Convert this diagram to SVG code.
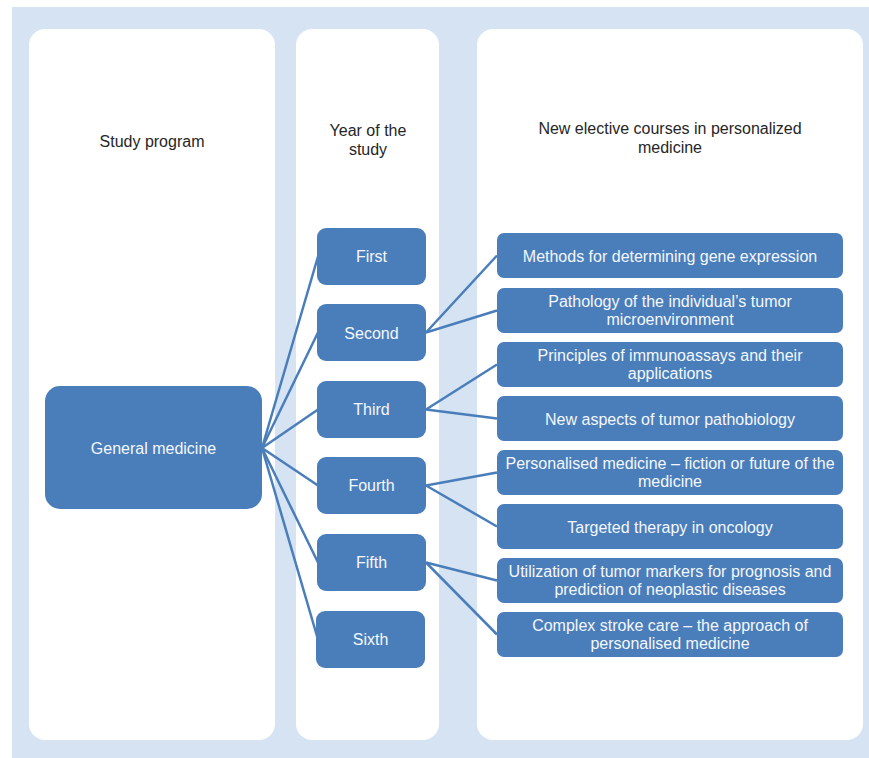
<svg xmlns="http://www.w3.org/2000/svg" width="869" height="758" viewBox="0 0 869 758">
  <style>
    .bg { fill: #d5e3f3; }
    .panel { fill: #ffffff; }
    .node { fill: #4a7ebb; }
    .head { font-family: "Liberation Sans", Arial, sans-serif; font-size: 16px; fill: #262626; text-anchor: middle; }
    .lbl { font-family: "Liberation Sans", Arial, sans-serif; font-size: 16px; fill: #f4f7fb; text-anchor: middle; }
    .edge { stroke: #4a7ebb; stroke-width: 2.5; fill: none; }
  </style>

  <!-- backdrop and column panels -->
  <rect x="0" y="0" width="869" height="758" fill="#ffffff"/>
  <rect class="bg" x="12" y="7" width="857" height="751"/>
  <rect class="panel" x="29" y="29" width="246" height="711" rx="16"/>
  <rect class="panel" x="296" y="29" width="143" height="711" rx="16"/>
  <rect class="panel" x="477" y="29" width="386" height="711" rx="16"/>

  <!-- column headings -->
  <text class="head" x="152" y="147">Study program</text>
  <text class="head" x="368" y="136">Year of the</text>
  <text class="head" x="368" y="155">study</text>
  <text class="head" x="670" y="134">New elective courses in personalized</text>
  <text class="head" x="670" y="153">medicine</text>

  <!-- connectors -->
  <g id="connectors">
    <line class="edge" x1="262" y1="448" x2="318" y2="256.5"/>
    <line class="edge" x1="262" y1="448" x2="318" y2="332.5"/>
    <line class="edge" x1="262" y1="448" x2="318" y2="409.5"/>
    <line class="edge" x1="262" y1="448" x2="318" y2="485.5"/>
    <line class="edge" x1="262" y1="448" x2="318" y2="562.5"/>
    <line class="edge" x1="262" y1="448" x2="318" y2="639.5"/>

    <line class="edge" x1="426" y1="332.5" x2="497" y2="255.5"/>
    <line class="edge" x1="426" y1="332.5" x2="497" y2="310.5"/>
    <line class="edge" x1="426" y1="409.5" x2="497" y2="364.5"/>
    <line class="edge" x1="426" y1="409.5" x2="497" y2="418.5"/>
    <line class="edge" x1="426" y1="485.5" x2="497" y2="472.5"/>
    <line class="edge" x1="426" y1="485.5" x2="497" y2="526.5"/>
    <line class="edge" x1="426" y1="562.5" x2="497" y2="580.5"/>
    <line class="edge" x1="426" y1="562.5" x2="497" y2="634.5"/>
  </g>

  <!-- study program -->
  <g id="general-medicine">
    <rect class="node" x="45" y="386" width="217" height="123" rx="15"/>
    <text class="lbl" x="153.5" y="454">General medicine</text>
  </g>

  <!-- years of study -->
  <g id="year-first">
    <rect class="node" x="317" y="228" width="109" height="57" rx="9"/>
    <text class="lbl" x="371.5" y="262">First</text>
  </g>
  <g id="year-second">
    <rect class="node" x="317" y="304" width="109" height="57" rx="9"/>
    <text class="lbl" x="371.5" y="338.5">Second</text>
  </g>
  <g id="year-third">
    <rect class="node" x="317" y="381" width="109" height="57" rx="9"/>
    <text class="lbl" x="371.5" y="415">Third</text>
  </g>
  <g id="year-fourth">
    <rect class="node" x="317" y="457" width="109" height="57" rx="9"/>
    <text class="lbl" x="371.5" y="491">Fourth</text>
  </g>
  <g id="year-fifth">
    <rect class="node" x="317" y="534" width="109" height="57" rx="9"/>
    <text class="lbl" x="371.5" y="568">Fifth</text>
  </g>
  <g id="year-sixth">
    <rect class="node" x="316" y="611" width="109" height="57" rx="9"/>
    <text class="lbl" x="370.5" y="645">Sixth</text>
  </g>

  <!-- elective courses -->
  <g id="course-gene-expression">
    <rect class="node" x="497" y="233" width="346" height="45" rx="7"/>
    <text class="lbl" x="670" y="261.5">Methods for determining gene expression</text>
  </g>
  <g id="course-tumor-microenvironment">
    <rect class="node" x="497" y="288" width="346" height="45" rx="7"/>
    <text class="lbl" x="670" y="307">Pathology of the individual’s tumor</text>
    <text class="lbl" x="670" y="325">microenvironment</text>
  </g>
  <g id="course-immunoassays">
    <rect class="node" x="497" y="342" width="346" height="45" rx="7"/>
    <text class="lbl" x="670" y="361">Principles of immunoassays and their</text>
    <text class="lbl" x="670" y="379">applications</text>
  </g>
  <g id="course-pathobiology">
    <rect class="node" x="497" y="396" width="346" height="45" rx="7"/>
    <text class="lbl" x="670" y="424.5">New aspects of tumor pathobiology</text>
  </g>
  <g id="course-personalised-medicine">
    <rect class="node" x="497" y="450" width="346" height="45" rx="7"/>
    <text class="lbl" x="670" y="469">Personalised medicine – fiction or future of the</text>
    <text class="lbl" x="670" y="487">medicine</text>
  </g>
  <g id="course-targeted-therapy">
    <rect class="node" x="497" y="504" width="346" height="45" rx="7"/>
    <text class="lbl" x="670" y="532.5">Targeted therapy in oncology</text>
  </g>
  <g id="course-tumor-markers">
    <rect class="node" x="497" y="558" width="346" height="45" rx="7"/>
    <text class="lbl" x="670" y="577">Utilization of tumor markers for prognosis and</text>
    <text class="lbl" x="670" y="595">prediction of neoplastic diseases</text>
  </g>
  <g id="course-stroke-care">
    <rect class="node" x="497" y="612" width="346" height="45" rx="7"/>
    <text class="lbl" x="670" y="631">Complex stroke care – the approach of</text>
    <text class="lbl" x="670" y="649">personalised medicine</text>
  </g>
</svg>
